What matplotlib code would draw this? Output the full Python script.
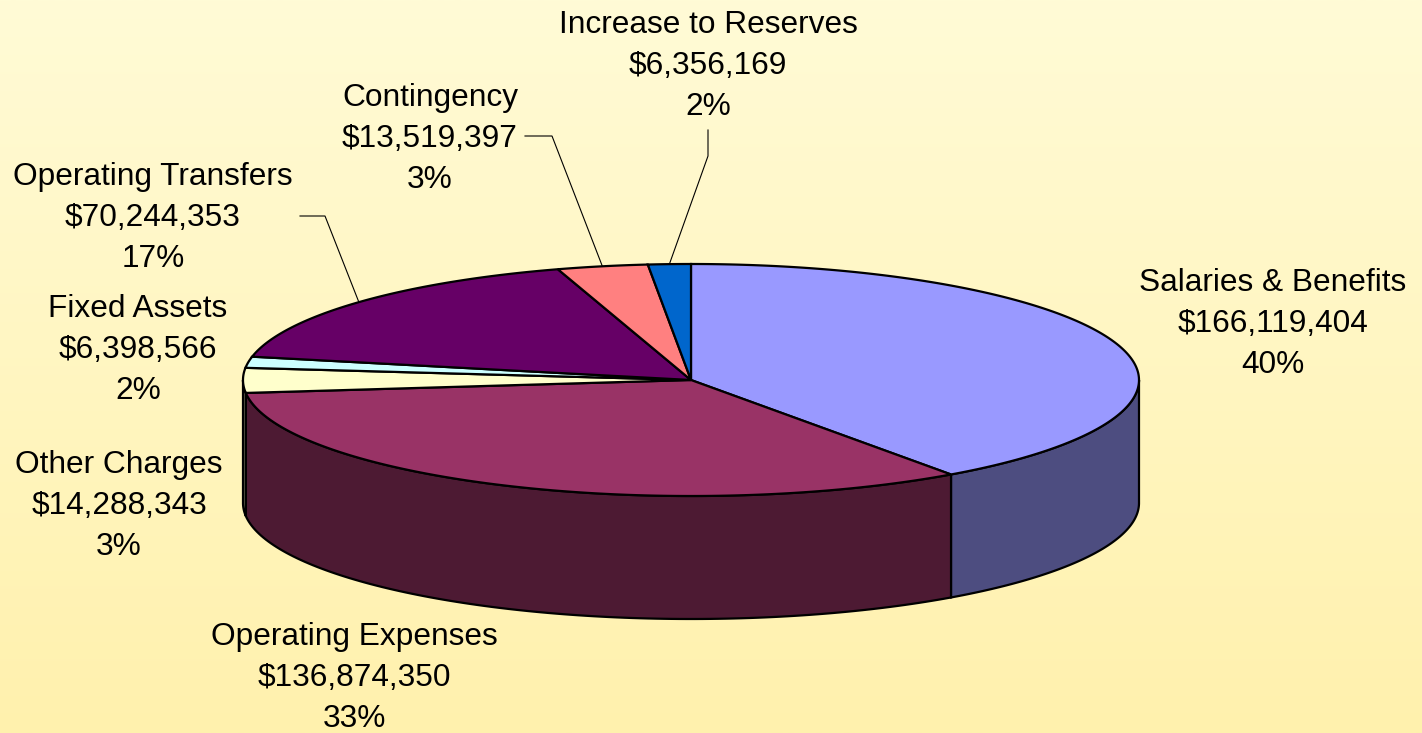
import numpy as np
import matplotlib
matplotlib.use("Agg")
from matplotlib import pyplot as plt
from matplotlib.patches import Polygon
from matplotlib.colors import LinearSegmentedColormap

# data, in drawing order (clockwise from 12 o'clock)
categories = ["Salaries & Benefits", "Operating Expenses", "Other Charges", "Fixed Assets",
              "Operating Transfers", "Contingency", "Increase to Reserves"]
amounts = [166119404, 136874350, 14288343, 6398566, 70244353, 13519397, 6356169]
top_colors = ["#9999FF", "#993366", "#FFFFCC", "#CCFFFF", "#660066", "#FF8080", "#0066CC"]
side_colors = ["#4D4D80", "#4D1A33", "#808066", "#668080", "#330033", "#804040", "#003366"]

# label layout: centre x, first baseline y, leader line (None or via points)
label_pos = [(1273, 291), (354, 645), (119, 473), (138, 317), (153, 185), (430, 106), (708, 33)]
leader_via = [None, None, None, None, [(300, 216), (325, 216)], [(525, 136), (552, 136)],
              [(708, 130), (708, 156)]]

W, H = 1422, 733
cx, cy, rx, ry, depth = 691, 380, 448, 116, 123
line_gap = 41

plt.rcParams['font.family'] = ['Liberation Sans', 'DejaVu Sans']

fig = plt.figure(figsize=(W / 100, H / 100), dpi=100)
ax = fig.add_axes([0, 0, 1, 1])
ax.set_xlim(0, W)
ax.set_ylim(H, 0)
ax.axis('off')

# background gradient
bg = LinearSegmentedColormap.from_list("bg", ["#FFFBD6", "#FFF1AD"])
grad = np.linspace(0, 1, 256).reshape(-1, 1)
ax.imshow(grad, cmap=bg, extent=[0, W, H, 0], aspect='auto', zorder=0)


def ell(theta):
    return cx + rx * np.cos(theta), cy - ry * np.sin(theta)


vals = np.array(amounts, dtype=float)
frac = vals / vals.sum()
bounds = 90 - 360 * np.concatenate([[0], np.cumsum(frac)])  # degrees, clockwise

# side walls (front half only: 180..360 degrees)
for i in range(len(vals)):
    a0, a1 = bounds[i + 1], bounds[i]  # a0 < a1
    for shift in (-360, 0, 360):
        lo, hi = max(a0 + shift, 180), min(a1 + shift, 360)
        if hi > lo:
            t = np.radians(np.linspace(lo, hi, 120))
            x, y = ell(t)
            pts = np.column_stack([np.concatenate([x, x[::-1]]),
                                   np.concatenate([y, y[::-1] + depth])])
            ax.add_patch(Polygon(pts, closed=True, facecolor=side_colors[i],
                                 edgecolor='black', linewidth=1.6, zorder=2))

# top faces
for i in range(len(vals)):
    t = np.radians(np.linspace(bounds[i], bounds[i + 1], 200))
    x, y = ell(t)
    pts = np.column_stack([np.concatenate([[cx], x]), np.concatenate([[cy], y])])
    ax.add_patch(Polygon(pts, closed=True, facecolor=top_colors[i],
                         edgecolor='black', linewidth=1.6, zorder=3))

# labels and leader lines
for i, name in enumerate(categories):
    pct = "%d%%" % round(frac[i] * 100)
    lines = [name, "${:,}".format(amounts[i]), pct]
    lx, ly = label_pos[i]
    for k, s in enumerate(lines):
        ax.text(lx, ly + k * line_gap, s, ha='center', va='baseline',
                fontsize=22.8, color='black', zorder=5)
    if leader_via[i] is not None:
        mid = np.radians((bounds[i] + bounds[i + 1]) / 2)
        ex, ey = ell(mid)
        px = [p[0] for p in leader_via[i]] + [ex]
        py = [p[1] for p in leader_via[i]] + [ey]
        ax.plot(px, py, color='black', linewidth=0.8, zorder=4)

fig.savefig("out.png", dpi=100)
